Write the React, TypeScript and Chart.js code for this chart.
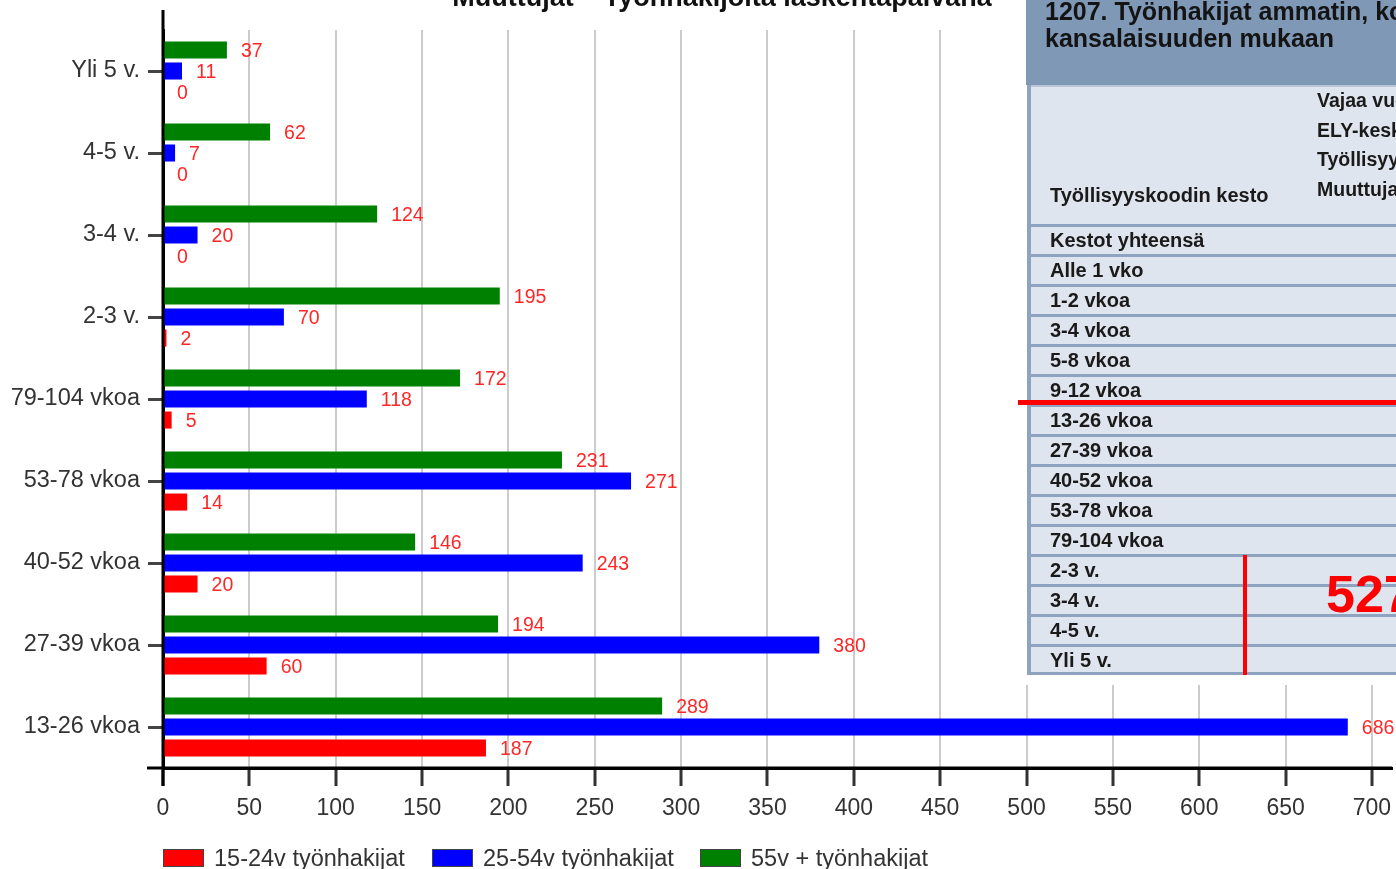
import React, { useEffect, useRef } from "react";
import { Chart, registerables } from "chart.js";

Chart.register(...registerables);

// ---- data ----
const categories = ["Yli 5 v.", "4-5 v.", "3-4 v.", "2-3 v.", "79-104 vkoa", "53-78 vkoa", "40-52 vkoa", "27-39 vkoa", "13-26 vkoa"];
const seniorValues = [37, 62, 124, 195, 172, 231, 146, 194, 289]; // 55v +
const adultValues = [11, 7, 20, 70, 118, 271, 243, 380, 686]; // 25-54v
const youthValues = [0, 0, 0, 2, 5, 14, 20, 60, 187]; // 15-24v
const legendLabels = ["15-24v työnhakijat", "25-54v työnhakijat", "55v + työnhakijat"];
const seriesColors = ["#ff0000", "#0000ff", "#008000"];
const chartTitle = "Muuttujat – Työnhakijoita laskentapäivänä";

const tableTitleLines = ["1207. Työnhakijat ammatin, koulutuksen ja", "kansalaisuuden mukaan"];
const tableHeaderLabel = "Työllisyyskoodin kesto";
const tableHeaderCols = ["Vajaa vuosi", "ELY-keskus", "Työllisyyskoodi", "Muuttujat"];
const tableRows = [
  "Kestot yhteensä", "Alle 1 vko", "1-2 vkoa", "3-4 vkoa", "5-8 vkoa", "9-12 vkoa",
  "13-26 vkoa", "27-39 vkoa", "40-52 vkoa", "53-78 vkoa", "79-104 vkoa",
  "2-3 v.", "3-4 v.", "4-5 v.", "Yli 5 v.",
];
const highlightValue = "527";

const FONT = '"Liberation Sans", Arial, sans-serif';

const valueLabels = {
  id: "valueLabels",
  afterDatasetsDraw(chart: any) {
    const ctx = chart.ctx;
    ctx.save();
    ctx.font = `19.5px ${FONT}`;
    ctx.fillStyle = "#ff2626";
    ctx.textAlign = "left";
    ctx.textBaseline = "middle";
    chart.data.datasets.forEach((ds: any, i: number) => {
      const meta = chart.getDatasetMeta(i);
      meta.data.forEach((el: any, j: number) => {
        ctx.fillText(String(ds.data[j]), el.x + 14, el.y + 2);
      });
    });
    ctx.restore();
  },
};

const axisExtras = {
  id: "axisExtras",
  afterDraw(chart: any) {
    const { ctx, chartArea } = chart;
    ctx.save();
    ctx.strokeStyle = "#000";
    ctx.lineWidth = 3;
    ctx.beginPath();
    ctx.moveTo(chartArea.left, chartArea.top - 20);
    ctx.lineTo(chartArea.left, chartArea.bottom + 18);
    ctx.moveTo(chartArea.left - 16, chartArea.bottom);
    ctx.lineTo(chartArea.right, chartArea.bottom);
    ctx.stroke();
    ctx.restore();
  },
};

export default function App() {
  const canvasRef = useRef<HTMLCanvasElement | null>(null);

  useEffect(() => {
    if (!canvasRef.current) return;
    const chart = new Chart(canvasRef.current, {
      type: "bar",
      data: {
        labels: categories,
        datasets: [
          { label: legendLabels[2], data: seniorValues, backgroundColor: seriesColors[2] },
          { label: legendLabels[1], data: adultValues, backgroundColor: seriesColors[1] },
          { label: legendLabels[0], data: youthValues, backgroundColor: seriesColors[0] },
        ],
      },
      options: {
        indexAxis: "y",
        animation: false,
        responsive: false,
        devicePixelRatio: 1,
        datasets: { bar: { categoryPercentage: 0.77, barPercentage: 0.81 } },
        layout: { padding: { top: 30, right: 4, bottom: 0, left: 0 } },
        plugins: {
          legend: { display: false },
          tooltip: { enabled: false },
          title: { display: false },
        },
        scales: {
          x: {
            type: "linear",
            position: "bottom",
            min: 0,
            max: 711.6,
            afterBuildTicks: (s: any) => {
              s.ticks = s.ticks.filter((t: any) => Math.abs(t.value % 50) < 1e-6);
            },
            afterFit: (s: any) => {
              s.height = 101;
              s.paddingLeft = 0;
              s.paddingRight = 0;
            },
            grid: {
              color: "#cccccc",
              lineWidth: 2,
              drawTicks: true,
              tickLength: 18,
              tickColor: "#333333",
              tickWidth: 3,
            },
            border: { display: true, color: "#000", width: 3 },
            ticks: {
              stepSize: 50,
              includeBounds: false,
              autoSkip: false,
              maxRotation: 0,
              padding: 9,
              color: "#333333",
              font: { family: FONT, size: 23 },
            },
          },
          y: {
            type: "category",
            afterFit: (s: any) => {
              s.width = 163;
              s.paddingTop = 0;
              s.paddingBottom = 0;
            },
            grid: {
              drawOnChartArea: false,
              drawTicks: true,
              tickLength: 15,
              tickColor: "#444444",
              tickWidth: 3,
              offset: false,
            },
            border: { display: true, color: "#000", width: 3 },
            ticks: {
              padding: 8,
              color: "#333333",
              font: { family: FONT, size: 23.5 },
            },
          },
        },
      },
      plugins: [valueLabels, axisExtras],
    } as any);
    return () => chart.destroy();
  }, []);

  const legendX = [163, 432, 700];
  const legendOrder = [0, 1, 2];

  return (
    <div
      style={{
        position: "fixed",
        left: 0,
        top: 0,
        width: 1396,
        height: 869,
        overflow: "hidden",
        background: "#fff",
      }}
    >
      <canvas ref={canvasRef} width={1396} height={869} style={{ position: "absolute", left: 0, top: 0, width: 1396, height: 869 }} />
      <svg
        width={1396}
        height={869}
        style={{ position: "absolute", left: 0, top: 0, pointerEvents: "none" }}
        fontFamily={FONT}
      >
        {/* cut-off chart title */}
        <text x={722} y={6} textAnchor="middle" fontSize={27} fontWeight="bold" fill="#111">
          {chartTitle}
        </text>

        {/* legend */}
        {legendOrder.map((i) => (
          <g key={i}>
            <rect x={legendX[i] + 0.5} y={849.5} width={40} height={17} fill={seriesColors[i]} stroke="#444" strokeWidth={1} />
            <text x={legendX[i] + 51} y={866} fontSize={23.5} fill="#333">
              {legendLabels[i]}
            </text>
          </g>
        ))}

        {/* overlaid table screenshot */}
        <rect x={1020} y={0} width={376} height={685} fill="#fff" />
        <rect x={1026} y={0} width={370} height={85} fill="#7f98b6" />
        <rect x={1027} y={85} width={369} height={590} fill="#dfe5ee" />
        <rect x={1027} y={85} width={369} height={2} fill="#b9c6d6" />
        <rect x={1027} y={85} width={4} height={590} fill="#8ea3bf" />
        {tableTitleLines.map((t, i) => (
          <text key={t} x={1045} y={20 + i * 27} fontSize={25} fontWeight="bold" fill="#141414">
            {t}
          </text>
        ))}
        <text x={1050} y={202} fontSize={20} fontWeight="bold" fill="#1a1a1a">
          {tableHeaderLabel}
        </text>
        {tableHeaderCols.map((t, i) => (
          <text key={t} x={1317} y={107 + i * 29.5} fontSize={19.5} fontWeight="bold" fill="#1a1a1a">
            {t}
          </text>
        ))}
        {tableRows.map((_, k) => (
          <rect key={"l" + k} x={1031} y={224 + k * 30} width={365} height={3} fill="#8ea3bf" />
        ))}
        <rect x={1031} y={672} width={365} height={3} fill="#8ea3bf" />
        {tableRows.map((t, k) => (
          <text key={"t" + k} x={1050} y={247 + k * 30} fontSize={20} fontWeight="bold" fill="#1a1a1a">
            {t}
          </text>
        ))}
        <rect x={1018} y={400} width={378} height={5} fill="#ff0000" />
        <rect x={1243} y={555} width={4} height={120} fill="#ff0000" />
        <text x={1326} y={612} fontSize={52} fontWeight="bold" fill="#ff0000">
          {highlightValue}
        </text>
      </svg>
    </div>
  );
}
